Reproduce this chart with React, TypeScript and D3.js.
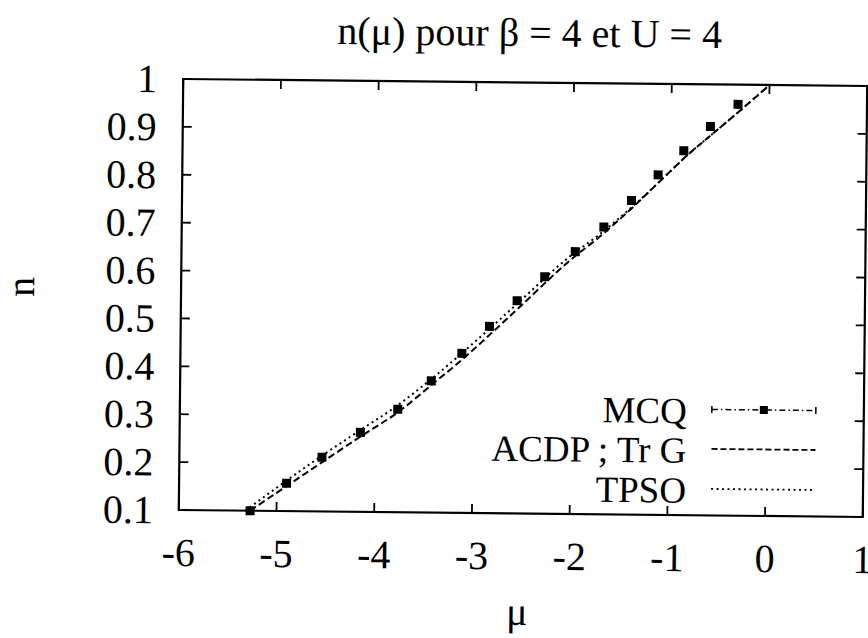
import React from "react";
import * as d3 from "d3";

const title = "n(μ) pour β = 4 et U = 4";
const xLabel = "μ";
const yLabel = "n";

const xTicks = [-6, -5, -4, -3, -2, -1, 0, 1];
const yTicks = [0.1, 0.2, 0.3, 0.4, 0.5, 0.6, 0.7, 0.8, 0.9, 1];
const yTickLabels = ["0.1", "0.2", "0.3", "0.4", "0.5", "0.6", "0.7", "0.8", "0.9", "1"];

const mcqMu = [-5.27, -4.9, -4.54, -4.15, -3.77, -3.43, -3.12, -2.84, -2.56, -2.28, -1.97, -1.68, -1.4, -1.13, -0.87, -0.6, -0.32];
const mcqN = [0.1, 0.158, 0.213, 0.266, 0.315, 0.375, 0.433, 0.49, 0.544, 0.595, 0.648, 0.7, 0.756, 0.81, 0.861, 0.912, 0.959];

const acdpMu = [-5.27, -4.53, -4.15, -3.76, -3.43, -3.14, -2.58, -2.02, -1.72, -1.38, -1.08, -0.81, -0.57, -0.27, 0];
const acdpN = [0.1, 0.204, 0.257, 0.31, 0.366, 0.416, 0.522, 0.63, 0.68, 0.743, 0.803, 0.856, 0.898, 0.951, 1];

const tpsoMu = [-5.32, -4.55, -4.17, -3.78, -3.44, -3.15, -2.59, -2.03, -1.72, -1.38, -1.08, -0.81, -0.57, -0.27, 0];
const tpsoN = [0.1, 0.215, 0.268, 0.322, 0.377, 0.428, 0.532, 0.637, 0.685, 0.745, 0.803, 0.856, 0.898, 0.951, 1];

const legendLabels = ["MCQ", "ACDP ; Tr G", "TPSO"];

const W = 868;
const H = 638;
const L = 181, R = 865, T = 82.5, B = 513.5;
const FONT = "'Liberation Serif', 'Times New Roman', serif";

export default function App() {
  const x = d3.scaleLinear().domain([-6, 1]).range([L, R]);
  const y = d3.scaleLinear().domain([0.1, 1]).range([B, T]);
  const line = d3
    .line<[number, number]>()
    .x((d) => x(d[0]))
    .y((d) => y(d[1]))
    .curve(d3.curveMonotoneX);

  const acdp = acdpMu.map((m, i) => [m, acdpN[i]] as [number, number]);
  const tpso = tpsoMu.map((m, i) => [m, tpsoN[i]] as [number, number]);

  const cx = (L + R) / 2;
  const cy = (T + B) / 2;
  const tick = 9;
  const sq = 9;

  const legX1 = 713, legX2 = 817, legTextX = 688;
  const legY = [407.5, 447, 487];

  return (
    <svg
      width={W}
      height={H}
      style={{ position: "absolute", left: 0, top: 0, background: "#fff" }}
      fontFamily={FONT}
    >
      <rect width={W} height={H} fill="#fff" />
      <g transform={`rotate(0.59, ${cx}, ${cy})`}>
        <text x={527} y={46} fontSize={40} textAnchor="middle" fill="#000">
          {title}
        </text>

        {/* frame */}
        <rect x={L} y={T} width={R - L} height={B - T} fill="none" stroke="#000" strokeWidth={2.2} />

        {/* ticks */}
        {xTicks.map((t) => (
          <g key={"xt" + t}>
            <line x1={x(t)} x2={x(t)} y1={B} y2={B - tick} stroke="#000" strokeWidth={1.8} />
            <line x1={x(t)} x2={x(t)} y1={T} y2={T + tick} stroke="#000" strokeWidth={1.8} />
            <text x={x(t)} y={B + 56} fontSize={40} textAnchor="middle" fill="#000">
              {t}
            </text>
          </g>
        ))}
        {yTicks.map((t, i) => (
          <g key={"yt" + t}>
            <line x1={L} x2={L + tick} y1={y(t)} y2={y(t)} stroke="#000" strokeWidth={1.8} />
            <line x1={R} x2={R - tick} y1={y(t)} y2={y(t)} stroke="#000" strokeWidth={1.8} />
            <text x={155} y={y(t)} dy="0.34em" fontSize={40} textAnchor="end" fill="#000">
              {yTickLabels[i]}
            </text>
          </g>
        ))}

        {/* axis labels */}
        <text x={520} y={625} fontSize={40} textAnchor="middle" fill="#000">
          {xLabel}
        </text>
        <text transform="translate(34, 292) rotate(-90)" fontSize={40} textAnchor="middle" fill="#000">
          {yLabel}
        </text>

        {/* curves */}
        <path d={line(acdp) || ""} fill="none" stroke="#000" strokeWidth={2} strokeDasharray="7,3.5" />
        <path d={line(tpso) || ""} fill="none" stroke="#000" strokeWidth={2} strokeDasharray="2,3.5" />

        {/* MCQ points */}
        {mcqMu.map((m, i) => (
          <rect key={"p" + i} x={x(m) - sq / 2} y={y(mcqN[i]) - sq / 2} width={sq} height={sq} fill="#000" />
        ))}

        {/* legend */}
        {legendLabels.map((lab, i) => (
          <text key={"lt" + i} x={legTextX} y={legY[i] + 14} fontSize={37} textAnchor="end" fill="#000">
            {lab}
          </text>
        ))}
        <line x1={legX1} x2={legX2} y1={legY[0]} y2={legY[0]} stroke="#000" strokeWidth={1.5} strokeDasharray="6,3,1.5,3" />
        <line x1={legX1} x2={legX1} y1={legY[0] - 3.5} y2={legY[0] + 3.5} stroke="#000" strokeWidth={1.5} />
        <line x1={legX2} x2={legX2} y1={legY[0] - 3.5} y2={legY[0] + 3.5} stroke="#000" strokeWidth={1.5} />
        <rect x={(legX1 + legX2) / 2 - 4} y={legY[0] - 4} width={8} height={8} fill="#000" />
        <line x1={legX1} x2={legX2} y1={legY[1]} y2={legY[1]} stroke="#000" strokeWidth={1.8} strokeDasharray="6,3" />
        <line x1={legX1} x2={legX2} y1={legY[2]} y2={legY[2]} stroke="#000" strokeWidth={1.8} strokeDasharray="2,3.5" />
      </g>
    </svg>
  );
}
